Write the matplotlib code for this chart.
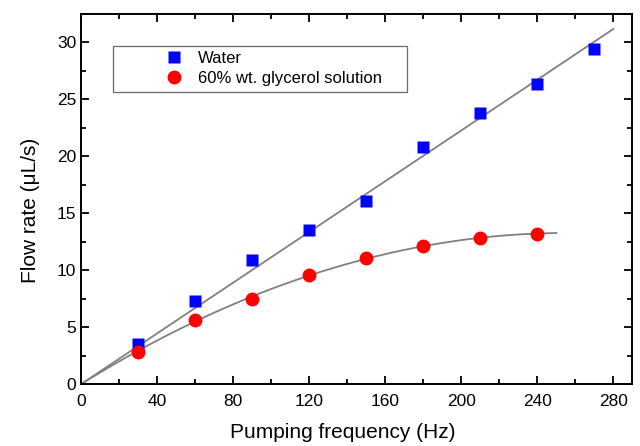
import numpy as np
import matplotlib
matplotlib.use('Agg')
import matplotlib.pyplot as plt
from matplotlib.ticker import MultipleLocator

plt.rcParams['font.family'] = ['Liberation Sans', 'DejaVu Sans']

# Data
freq_water = [30, 60, 90, 120, 150, 180, 210, 240, 270]
flow_water = [3.5, 7.3, 10.9, 13.5, 16.1, 20.8, 23.8, 26.3, 29.4]
freq_glyc = [30, 60, 90, 120, 150, 180, 210, 240]
flow_glyc = [2.8, 5.6, 7.5, 9.6, 11.1, 12.1, 12.8, 13.2]

# linear fit through the origin for water
xw = np.array(freq_water, dtype=float)
yw = np.array(flow_water)
slope = np.sum(xw * yw) / np.sum(xw * xw)
xw_fit = np.linspace(0, 280, 100)

# quadratic fit through origin for glycerol
xg = np.array(freq_glyc, dtype=float)
yg = np.array(flow_glyc)
A = np.column_stack([xg, xg ** 2])
coef = np.linalg.lstsq(A, yg, rcond=None)[0]
xg_fit = np.linspace(0, 250, 100)

fig = plt.figure(figsize=(6.4, 4.46), dpi=100)
ax = fig.add_axes([0.127, 0.139, 0.861, 0.830])

ax.plot(xw_fit, slope * xw_fit, color='#808080', lw=1.3, zorder=1)
ax.plot(xg_fit, coef[0] * xg_fit + coef[1] * xg_fit ** 2, color='#808080', lw=1.3, zorder=1)
ax.plot(freq_water, flow_water, 's', color='#0000ff', ms=9, mec='none', label='Water', zorder=2)
ax.plot(freq_glyc, flow_glyc, 'o', color='#ff0000', ms=10, mec='none',
        label='60% wt. glycerol solution', zorder=2)

ax.set_xlim(0, 290)
ax.set_ylim(0, 32.5)
ax.xaxis.set_major_locator(MultipleLocator(40))
ax.xaxis.set_minor_locator(MultipleLocator(20))
ax.yaxis.set_major_locator(MultipleLocator(5))
ax.yaxis.set_minor_locator(MultipleLocator(2.5))
ax.tick_params(which='both', direction='in', top=True, right=True, width=1.3, labelsize=12.5)
ax.tick_params(which='major', length=6)
ax.tick_params(which='minor', length=3.5)
ax.tick_params(axis='x', pad=7)
for s in ax.spines.values():
    s.set_linewidth(1.4)

ax.set_xlabel('Pumping frequency (Hz)', fontsize=15)
ax.set_ylabel('Flow rate (\u03bcL/s)', fontsize=15)
ax.xaxis.set_label_coords(0.474, -0.105)
ax.yaxis.set_label_coords(-0.075, 0.468)

leg = ax.legend(loc='upper left', bbox_to_anchor=(0.058, 0.5, 0.534, 0.4135), mode='expand',
                fontsize=12, fancybox=False, edgecolor='#444444', borderpad=0.32,
                borderaxespad=0, handletextpad=-1.85, labelspacing=0.3, handlelength=6.6)
leg.get_frame().set_linewidth(0.9)

plt.savefig('out.png', dpi=100)
